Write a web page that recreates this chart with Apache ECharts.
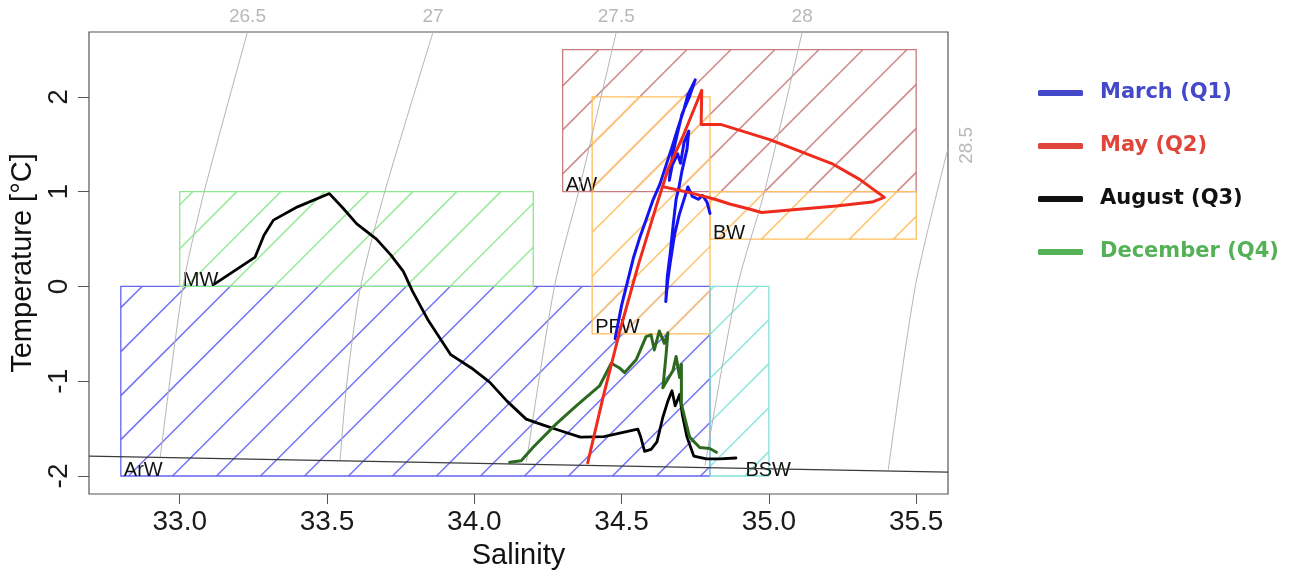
<!DOCTYPE html>
<html>
<head>
<meta charset="utf-8">
<script src="https://cdn.jsdelivr.net/npm/echarts@6/dist/echarts.min.js"></script>
<style>
  html, body { margin: 0; padding: 0; background: #fff; }
  #chart { width: 1296px; height: 575px; }
</style>
</head>
<body>
<div id="chart"></div>
<script>
// --- CTD profiles (salinity / temperature) ---
var marchS = [34.478, 34.50, 34.52, 34.54, 34.56, 34.585, 34.605, 34.63, 34.65, 34.67, 34.69, 34.71, 34.725, 34.75,
  34.73, 34.705, 34.69, 34.675, 34.665, 34.662, 34.672, 34.69, 34.70, 34.712, 34.728, 34.722, 34.705, 34.695,
  34.685, 34.675, 34.665, 34.655, 34.65, 34.656, 34.665, 34.68, 34.695, 34.71, 34.725, 34.74, 34.76, 34.775, 34.79, 34.80];
var marchT = [-0.55, -0.20, 0.05, 0.30, 0.50, 0.72, 0.90, 1.08, 1.27, 1.46, 1.66, 1.85, 2.02, 2.18,
  2.00, 1.82, 1.62, 1.42, 1.22, 1.12, 1.28, 1.40, 1.30, 1.52, 1.64, 1.45, 1.22, 1.05,
  0.92, 0.65, 0.35, 0.10, -0.16, 0.05, 0.25, 0.55, 0.75, 0.90, 1.05, 0.95, 0.92, 0.96, 0.89, 0.77];

var mayS = [34.385, 34.437, 34.494, 34.556, 34.618, 34.658, 34.709, 34.772, 34.770, 34.836, 35.003, 35.218, 35.308, 35.392,
  35.350, 35.229, 34.975, 34.930, 34.867, 34.817, 34.731, 34.645];
var mayT = [-1.86, -1.17, -0.47, 0.22, 0.85, 1.24, 1.59, 2.07, 1.71, 1.71, 1.55, 1.29, 1.13, 0.94,
  0.89, 0.85, 0.78, 0.82, 0.87, 0.92, 0.99, 1.05];

var augustS = [33.120, 33.256, 33.286, 33.318, 33.400, 33.508, 33.553, 33.601, 33.668, 33.717, 33.759, 33.790, 33.844,
  33.920, 33.990, 34.052, 34.111, 34.176, 34.232, 34.290, 34.360, 34.440, 34.555, 34.564, 34.578, 34.600, 34.620,
  34.640, 34.657, 34.671, 34.682, 34.697, 34.706, 34.722, 34.745, 34.788, 34.833, 34.888];
var augustT = [0.03, 0.31, 0.54, 0.70, 0.84, 0.98, 0.83, 0.66, 0.50, 0.33, 0.16, -0.05, -0.36,
  -0.72, -0.86, -1.01, -1.21, -1.40, -1.46, -1.52, -1.59, -1.585, -1.505, -1.58, -1.74, -1.72, -1.64,
  -1.38, -1.21, -1.10, -1.26, -1.14, -1.35, -1.59, -1.79, -1.82, -1.82, -1.81];

var decemberS = [34.120, 34.159, 34.199, 34.278, 34.346, 34.425, 34.465, 34.493, 34.510, 34.550, 34.583, 34.600, 34.611,
  34.628, 34.645, 34.657, 34.651, 34.640, 34.674, 34.685, 34.697, 34.703, 34.703, 34.714, 34.731, 34.765, 34.799, 34.822];
var decemberT = [-1.855, -1.84, -1.70, -1.45, -1.26, -1.05, -0.81, -0.86, -0.91, -0.77, -0.53, -0.51, -0.67,
  -0.47, -0.60, -0.49, -0.72, -1.07, -0.89, -0.74, -0.96, -0.82, -1.24, -1.38, -1.59, -1.70, -1.71, -1.75];

var profileNames = ['March (Q1)', 'May (Q2)', 'August (Q3)', 'December (Q4)'];

// --- water mass boxes ---
var boxNames = ['ArW', 'MW', 'AW', 'PFW', 'BW', 'BSW'];
var boxSmin = [32.8, 33.0, 34.3, 34.4, 34.8, 34.8];
var boxSmax = [34.8, 34.2, 35.5, 34.8, 35.5, 35.0];
var boxTmin = [-2, 0, 1, -0.5, 0.5, -2];
var boxTmax = [0, 1, 2.5, 2, 1, 0];
var boxLabelS = [32.8, 33.0, 34.3, 34.4, 34.8, 34.91];

// --- isopycnals (sigma-theta) ---
var isoNames = ['26.5', '27', '27.5', '28', '28.5'];
var isoS = [
  [32.934, 33.011, 33.083, 33.230],
  [33.544, 33.568, 33.614, 33.696, 33.860],
  [34.177, 34.272, 34.354, 34.482],
  [34.783, 34.893, 34.985, 35.113],
  [35.405, 35.497, 35.607]
];
var isoT = [
  [-1.80, 0, 1, 2.685],
  [-1.84, -1, 0, 1, 2.685],
  [-1.85, 0, 1, 2.685],
  [-1.89, 0, 1, 2.685],
  [-1.94, 0, 1.447]
];

// freezing point line
var freezeS = [32.692, 35.608];
var freezeT = [-1.79, -1.96];

// axis ticks
var salTicks = [33.0, 33.5, 34.0, 34.5, 35.0, 35.5];
var tempTicks = [-2, -1, 0, 1, 2];

// ---------------- styles ----------------
var lineColors = ['#1414f0', '#ee2b1c', '#000000', '#2d6a1f'];
var legendColors = ['#4349c9', '#e0453a', '#111111', '#55b155'];
var boxColors = ['#6464f0', '#8be88b', '#c67c7c', '#ffbd5c', '#ffbd5c', '#84e2da'];
var hatchColors = ['#7676f3', '#9cec9c', '#cf8c8c', '#ffc773', '#ffc773', '#93e7df'];
var hatchStep = 44;   // px between hatch lines, measured along x
var hatchPhase = 32.5;
var rFont = '"Liberation Sans", Arial, Helvetica, sans-serif';

function pairs(s, t) {
  return s.map(function (v, i) { return [v, t[i]]; });
}

var chart = echarts.init(document.getElementById('chart'));

function renderBox(params, api) {
  var i = params.dataIndex;
  var tl = api.coord([api.value(0), api.value(3)]);
  var br = api.coord([api.value(1), api.value(2)]);
  var lp = api.coord([api.value(4), api.value(2)]);
  return {
    type: 'group',
    children: [{
      type: 'rect', silent: true,
      shape: { x: tl[0], y: tl[1], width: br[0] - tl[0], height: br[1] - tl[1] },
      style: { fill: null, stroke: boxColors[i], lineWidth: 1.3 }
    }, {
      type: 'text', silent: true, x: lp[0] + 3, y: lp[1] + 4,
      style: { text: boxNames[i], fill: '#111', font: '20px ' + rFont, align: 'left', verticalAlign: 'bottom' }
    }]
  };
}

// 45 degree hatch segments of one box, worked out in pixels and mapped back to data
function hatchSegments(i) {
  var g = { gridIndex: 0 };
  var tl = chart.convertToPixel(g, [boxSmin[i], boxTmax[i]]);
  var br = chart.convertToPixel(g, [boxSmax[i], boxTmin[i]]);
  var segs = [];
  var c = Math.ceil((tl[0] + tl[1] - hatchPhase) / hatchStep) * hatchStep + hatchPhase;
  for (; c <= br[0] + br[1]; c += hatchStep) {
    var xa = Math.max(tl[0], c - br[1]), xb = Math.min(br[0], c - tl[1]);
    if (xb - xa < 0.5) continue;
    segs.push({
      coords: [chart.convertFromPixel(g, [xa, c - xa]), chart.convertFromPixel(g, [xb, c - xb])]
    });
  }
  return segs;
}

function buildOption(withHatch) {
  var series = [];

  if (withHatch) {
    boxNames.forEach(function (n, i) {
      series.push({
        type: 'lines', name: 'hatch ' + n, coordinateSystem: 'cartesian2d',
        polyline: false, silent: true, z: 1,
        lineStyle: { color: hatchColors[i], width: 1.6, opacity: 1 },
        data: hatchSegments(i)
      });
    });
  }

  series.push({
    type: 'custom',
    name: 'water masses',
    renderItem: renderBox,
    clip: true,
    z: 2,
    encode: { x: [0, 1], y: [2, 3] },
    data: boxNames.map(function (n, i) {
      return [boxSmin[i], boxSmax[i], boxTmin[i], boxTmax[i], boxLabelS[i]];
    })
  });

  isoNames.forEach(function (n, i) {
    series.push({
      type: 'line', name: 'sigma ' + n, z: 3,
      data: pairs(isoS[i], isoT[i]),
      smooth: 0.25, symbol: 'none', silent: true,
      lineStyle: { color: '#b4b4b4', width: 1 }
    });
  });

  // labels for isopycnals at their upper ends
  series.push({
    type: 'scatter', name: 'sigma labels', z: 3, clip: false, silent: true,
    symbolSize: 0.01,
    itemStyle: { color: 'transparent' },
    data: isoNames.map(function (n, i) {
      var k = isoS[i].length - 1;
      var last = i === isoNames.length - 1;
      return {
        value: [isoS[i][k], isoT[i][k]],
        name: n,
        label: {
          show: true,
          formatter: n,
          position: last ? [19, -4] : [0, -15],
          rotate: last ? 90 : 0,
          align: 'center', verticalAlign: 'middle',
          color: '#a6a6a6', fontSize: 19, fontFamily: rFont
        }
      };
    })
  });

  series.push({
    type: 'line', name: 'freezing', z: 4,
    data: pairs(freezeS, freezeT),
    symbol: 'none', silent: true,
    lineStyle: { color: '#3a3a3a', width: 1.3 }
  });

  var prof = [[marchS, marchT], [mayS, mayT], [augustS, augustT], [decemberS, decemberT]];
  [2, 3, 0, 1].forEach(function (i) {
    series.push({
      type: 'line', name: profileNames[i], z: 5,
      data: pairs(prof[i][0], prof[i][1]),
      symbol: 'none',
      color: lineColors[i],
      lineStyle: { color: lineColors[i], width: i === 2 ? 2.8 : 3, join: 'round', cap: 'round' }
    });
  });

  return {
    animation: false,
    backgroundColor: '#fff',
    grid: {
      left: 89, top: 32, width: 859, height: 465,
      show: true, borderColor: '#555', borderWidth: 1.2
    },
    legend: {
      orient: 'vertical',
      left: 1038, top: 82.5, padding: 0,
      itemWidth: 45, itemHeight: 6, itemGap: 32,
      icon: 'roundRect',
      selectedMode: false,
      textStyle: { fontFamily: 'DejaVu Sans', fontWeight: 'bold', fontSize: 21, padding: [0, 0, 0, 12] },
      data: profileNames.map(function (n, i) {
        return {
          name: n,
          itemStyle: { color: legendColors[i] },
          lineStyle: { color: legendColors[i] },
          textStyle: { color: legendColors[i] }
        };
      })
    },
    xAxis: {
      type: 'value',
      min: 32.692, max: 35.608,
      name: 'Salinity', nameLocation: 'middle', nameGap: 47,
      nameTextStyle: { fontFamily: rFont, fontSize: 29, color: '#111' },
      axisLine: { show: false, onZero: false },
      splitLine: { show: false },
      axisTick: { show: true, length: 10, inside: false, customValues: salTicks, lineStyle: { color: '#555' } },
      axisLabel: {
        customValues: salTicks, margin: 14,
        fontFamily: rFont, fontSize: 28, color: '#1a1a1a',
        formatter: function (v) { return v.toFixed(1); }
      }
    },
    yAxis: {
      type: 'value',
      min: -2.19, max: 2.685,
      name: 'Temperature [°C]', nameLocation: 'middle', nameGap: 48,
      nameTextStyle: { fontFamily: rFont, fontSize: 29, color: '#111' },
      axisLine: { show: false, onZero: false },
      splitLine: { show: false },
      axisTick: { show: true, length: 11, inside: false, customValues: tempTicks, lineStyle: { color: '#555' } },
      axisLabel: {
        customValues: tempTicks, margin: 16, rotate: 90,
        fontFamily: rFont, fontSize: 28, color: '#1a1a1a'
      }
    },
    series: series
  };
}

// first pass sets up the grid so the hatch can be laid out in pixels
chart.setOption(buildOption(false));
chart.setOption(buildOption(true), true);
</script>
</body>
</html>
